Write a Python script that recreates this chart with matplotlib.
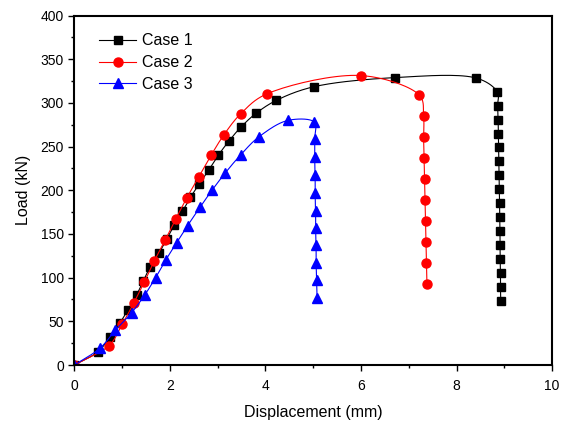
import numpy as np
import matplotlib.pyplot as plt
from matplotlib.ticker import MultipleLocator

plt.rcParams['font.family'] = ['Liberation Sans', 'DejaVu Sans']

# Case 1
case1_x = [0, 0.49, 0.74, 0.95, 1.12, 1.30, 1.44, 1.58, 1.77, 1.93, 2.09, 2.26, 2.43,
           2.61, 2.81, 3.01, 3.23, 3.48, 3.80, 4.23, 5.01, 6.71, 8.41,
           8.85, 8.86, 8.87, 8.875, 8.88, 8.885, 8.89, 8.895, 8.90, 8.905, 8.91,
           8.91, 8.915, 8.92, 8.92, 8.925]
case1_y = [0, 15, 32, 48, 63, 80, 96, 112, 128, 144, 160, 176, 192,
           207, 223, 240, 256, 272, 288, 303, 318.5, 329, 328.5,
           313, 297, 281, 265, 249, 233, 217, 201, 185, 169, 153,
           137, 121, 105, 89, 73]

# Case 2
case2_x = [0, 0.72, 1.00, 1.24, 1.46, 1.67, 1.90, 2.12, 2.35, 2.60, 2.86, 3.13, 3.48,
           4.03, 5.99, 7.21, 7.31, 7.31, 7.32, 7.33, 7.34, 7.35, 7.36, 7.37, 7.38]
case2_y = [0, 22, 46.6, 70.7, 94.7, 118.8, 143, 167, 191, 215, 240, 263.5, 287.5,
           310.4, 331.4, 309.6, 285, 261, 237, 213, 189, 165, 141, 117, 93]

# Case 3
case3_x = [0, 0.53, 0.86, 1.20, 1.47, 1.70, 1.91, 2.14, 2.37, 2.63, 2.88, 3.16, 3.48,
           3.87, 4.47, 5.01, 5.03, 5.03, 5.04, 5.04, 5.05, 5.05, 5.06, 5.06, 5.07, 5.08]
case3_y = [0, 19, 40, 60, 80, 100, 120, 140, 159.6, 180.6, 200, 220, 240.5,
           261.5, 280, 278.7, 258.5, 238, 217, 196.7, 176.7, 156.6, 137.5, 117, 97.4, 77]

labels = ['Case 1', 'Case 2', 'Case 3']


def smooth(x, y, n=20, alpha=0.5):
    # centripetal Catmull-Rom through the points
    p = np.column_stack([x, y]).astype(float)
    scale = np.array([1.0, 1 / 40.0])
    q = p * scale
    q = np.vstack([2 * q[0] - q[1], q, 2 * q[-1] - q[-2]])
    out = []
    for i in range(1, len(q) - 2):
        p0, p1, p2, p3 = q[i - 1], q[i], q[i + 1], q[i + 2]
        t0 = 0.0
        t1 = t0 + max(np.linalg.norm(p1 - p0), 1e-6) ** alpha
        t2 = t1 + max(np.linalg.norm(p2 - p1), 1e-6) ** alpha
        t3 = t2 + max(np.linalg.norm(p3 - p2), 1e-6) ** alpha
        t = np.linspace(t1, t2, n)[:, None]
        a1 = (t1 - t) / (t1 - t0) * p0 + (t - t0) / (t1 - t0) * p1
        a2 = (t2 - t) / (t2 - t1) * p1 + (t - t1) / (t2 - t1) * p2
        a3 = (t3 - t) / (t3 - t2) * p2 + (t - t2) / (t3 - t2) * p3
        b1 = (t2 - t) / (t2 - t0) * a1 + (t - t0) / (t2 - t0) * a2
        b2 = (t3 - t) / (t3 - t1) * a2 + (t - t1) / (t3 - t1) * a3
        c = (t2 - t) / (t2 - t1) * b1 + (t - t1) / (t2 - t1) * b2
        out.append(c)
    c = np.vstack(out) / scale
    return c[:, 0], c[:, 1]


fig = plt.figure(figsize=(5.68, 4.21), dpi=100)
ax = fig.add_axes([0.131, 0.133, 0.841, 0.830])

styles = [('black', 's', 6, case1_x, case1_y),
          ('red', 'o', 6.5, case2_x, case2_y),
          ('blue', '^', 7.5, case3_x, case3_y)]
for (color, marker, ms, xs, ys), lab in zip(styles, labels):
    sx, sy = smooth(xs, ys)
    ax.plot(sx, sy, color=color, lw=0.8)
    ax.plot(xs, ys, linestyle='none', marker=marker, ms=ms, color=color)
    ax.plot([], [], color=color, lw=0.8, marker=marker, ms=ms, label=lab)

ax.set_xlim(0, 10)
ax.set_ylim(0, 400)
ax.xaxis.set_major_locator(MultipleLocator(2))
ax.xaxis.set_minor_locator(MultipleLocator(1))
ax.yaxis.set_major_locator(MultipleLocator(50))
ax.yaxis.set_minor_locator(MultipleLocator(25))
ax.tick_params(which='both', direction='out', labelsize=10, width=1)
ax.tick_params(which='major', length=4)
ax.tick_params(which='minor', length=2.5)
ax.tick_params(axis='x', pad=6)
for s in ax.spines.values():
    s.set_linewidth(1.5)

ax.set_xlabel('Displacement (mm)', fontsize=11.5, labelpad=9)
ax.set_ylabel('Load (kN)', fontsize=11.5, labelpad=7)

ax.legend(loc='upper left', frameon=False, fontsize=11.5, handlelength=2.3,
          handletextpad=0.4, labelspacing=0.42, bbox_to_anchor=(0.022, 0.99))

fig.savefig('out.png', dpi=100)
